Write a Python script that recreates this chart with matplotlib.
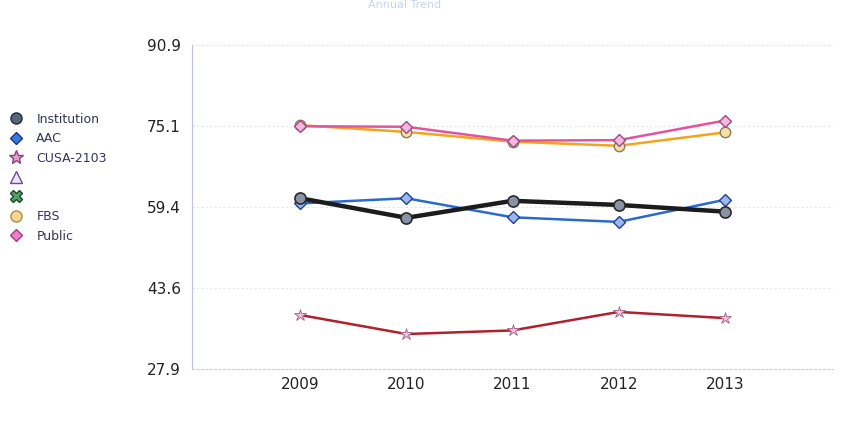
import matplotlib
matplotlib.use("Agg")
import matplotlib.pyplot as plt
from matplotlib.lines import Line2D

years = [2009, 2010, 2011, 2012, 2013]
institution = [61.1, 57.3, 60.6, 59.8, 58.5]
aac = [60.1, 61.1, 57.4, 56.5, 60.8]
cusa = [38.4, 34.7, 35.4, 39.0, 37.8]
fbs = [75.3, 74.0, 72.1, 71.3, 73.9]
public = [75.1, 75.0, 72.3, 72.4, 76.2]
yticks = [27.9, 43.6, 59.4, 75.1, 90.9]
title = "Annual Trend"

fig = plt.figure(figsize=(8.5, 4.24), dpi=100)
ax = fig.add_axes([192/850, 1-369/424, (833-192)/850, (369-45)/424])

ax.set_xlim(2007.98, 2014.02)
ax.set_ylim(27.9, 90.9)

for y in yticks:
    ax.axhline(y, color="#e2e6ee", lw=0.8, ls=(0, (2, 2)), zorder=0)

ax.plot(years, fbs, color="#f2a41e", lw=1.8, marker="o", ms=7.5,
        mfc="#f6dfa6", mec="#8a7a60", mew=1.0, zorder=3)
ax.plot(years, public, color="#e2559e", lw=1.8, marker="D", ms=6,
        mfc="#f2b8dc", mec="#a04880", mew=1.0, zorder=4)
ax.plot(years, aac, color="#2a6ad0", lw=1.8, marker="D", ms=6,
        mfc="#9ab8ee", mec="#1f3f90", mew=1.0, zorder=3)
ax.plot(years, institution, color="#1c1c1c", lw=3.2, marker="o", ms=8,
        mfc="#8a93a6", mec="#2a2a2a", mew=1.2, zorder=4)
ax.plot(years, cusa, color="#b0202e", lw=1.8, marker="*", ms=9,
        mfc="#f0c0e0", mec="#a06080", mew=0.6, zorder=3)

ax.set_xticks(years)
ax.set_xticklabels([str(y) for y in years])
ax.set_yticks(yticks)
ax.set_yticklabels([f"{y:.1f}" for y in yticks])
ax.tick_params(axis="both", length=0, labelsize=11, colors="#222222")
ax.tick_params(axis="x", pad=6)
ax.tick_params(axis="y", pad=8)

for s in ["top", "right"]:
    ax.spines[s].set_visible(False)
ax.spines["left"].set_color("#b8c4dc")
ax.spines["left"].set_linewidth(0.8)
ax.spines["bottom"].set_color("#c8d0e4")
ax.spines["bottom"].set_linestyle((0, (2, 2)))
ax.spines["bottom"].set_linewidth(0.8)

fig.text(405/850, 1-5/424, title, ha="center", va="center",
         fontsize=8, color="#c8d4e8")

handles = [
    Line2D([], [], ls="none", marker="o", ms=8, mfc="#5a6478", mec="#1e2a44"),
    Line2D([], [], ls="none", marker="D", ms=6, mfc="#3a78e0", mec="#1a3480"),
    Line2D([], [], ls="none", marker="*", ms=10, mfc="#e0a0d0", mec="#904078"),
    Line2D([], [], ls="none", marker="^", ms=8, mfc="#ece4f8", mec="#6a4aa8"),
    Line2D([], [], ls="none", marker="X", ms=9, mfc="#50a060", mec="#1e4a30"),
    Line2D([], [], ls="none", marker="o", ms=8, mfc="#f6d890", mec="#b08a50"),
    Line2D([], [], ls="none", marker="D", ms=6, mfc="#ea80c8", mec="#a04080"),
]
labels = ["Institution", "AAC", "CUSA-2103", "", "", "FBS", "Public"]
leg = fig.legend(handles, labels, loc="upper left",
                 bbox_to_anchor=(0.0, 1-104/424), frameon=False,
                 fontsize=9, labelspacing=0.52, handletextpad=1.0,
                 handlelength=1.2, borderaxespad=0.3)
for t in leg.get_texts():
    t.set_color("#34345a")

fig.savefig("out.png", dpi=100)
